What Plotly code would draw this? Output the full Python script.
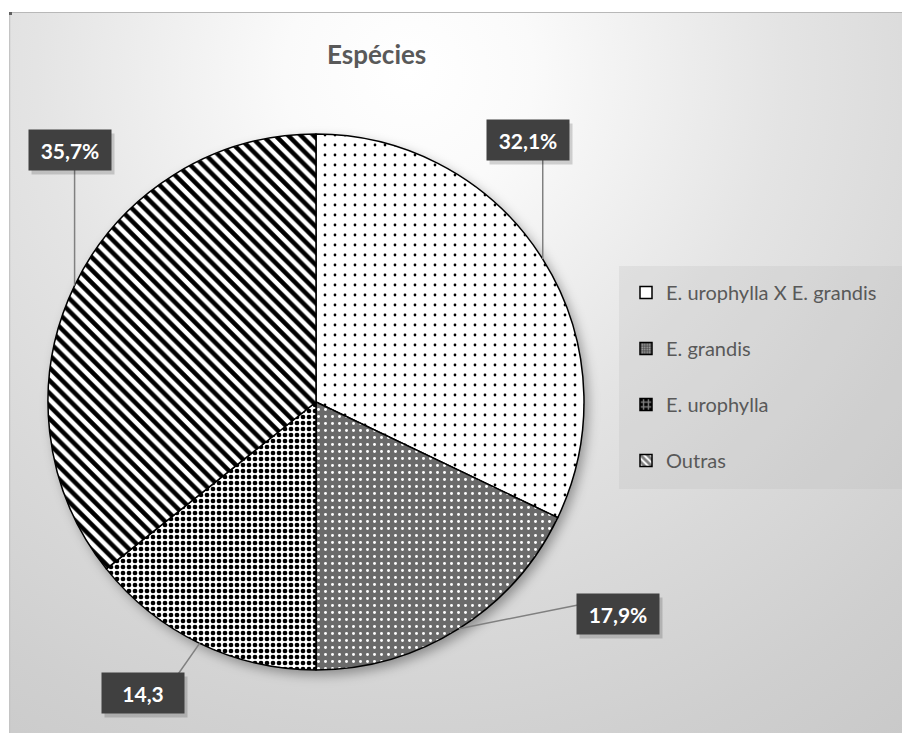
import math, base64
import plotly.graph_objects as go

# ---------------- data ----------------
labels = ["E. urophylla X E. grandis", "E. grandis", "E. urophylla", "Outras"]
values = [32.1, 17.9, 14.3, 35.7]
value_texts = ["32,1%", "17,9%", "14,3", "35,7%"]
title_text = "Espécies"

# ---------------- styles ----------------
pat_shape = [".", ".", ".", "\\"]
pat_fg = ["#000000", "#ffffff", "#000000", "#000000"]
pat_bg = ["#ffffff", "#6a6a6a", "#ffffff", "#ffffff"]
pat_size = [10, 7, 6, 9]
pat_sol = [0.06, 0.14, 0.48, 0.5]

leg_shape = ["", ".", "+", "\\"]
leg_fg = ["#000000", "#ffffff", "#ffffff", "#000000"]
leg_bg = ["#ffffff", "#555555", "#000000", "#ffffff"]
leg_size = [4, 3, 6, 6]
leg_sol = [0.1, 0.3, 0.5, 0.6]

W, H = 902, 733
FONT = "Lato"
TXT = "#595959"

# pie geometry (pixels)
CX, CY, R = 316, 402, 268

def px(x):
    return x / W

def py(y):
    return 1 - y / H

# label layout (pixel positions of box centers and leader ends)
box_centers = [(528, 140), (618, 614), (143, 693), (70, 150)]
leader_ends = [(None, 158), (578, 605), (174, 680), (None, 169)]

fig = go.Figure()

fig.add_trace(go.Pie(
    labels=labels, values=values, sort=False, direction="clockwise", rotation=0,
    textinfo="none", hoverinfo="skip", showlegend=False,
    domain=dict(x=[px(CX - R), px(CX + R)], y=[py(CY + R), py(CY - R)]),
    marker=dict(colors=pat_bg, line=dict(color="#000000", width=1.5),
                pattern=dict(shape=pat_shape, fgcolor=pat_fg, bgcolor=pat_bg,
                             size=pat_size, solidity=pat_sol, fillmode="replace")),
))

# legend entries (dummy bars carrying the slice styles)
for i, lab in enumerate(labels):
    fig.add_trace(go.Bar(
        x=[None], y=[None], name=lab, legendgroup=lab, showlegend=True,
        hoverinfo="skip",
        marker=dict(color=leg_bg[i], line=dict(color="#000000", width=1.5),
                    pattern=dict(shape=leg_shape[i], fgcolor=leg_fg[i], bgcolor=leg_bg[i],
                                 size=leg_size[i], solidity=leg_sol[i])),
    ))

# leader lines and label boxes
total = sum(values)
cum = 0.0
shapes = []
annotations = []
for i, v in enumerate(values):
    theta = 2 * math.pi * (cum + v / 2) / total
    cum += v
    ex = CX + R * math.sin(theta)
    ey = CY - R * math.cos(theta)
    lx, ly = leader_ends[i]
    if lx is None:
        lx = ex
    shapes.append(dict(type="line", xref="paper", yref="paper",
                       x0=px(ex), y0=py(ey), x1=px(lx), y1=py(ly),
                       line=dict(color="#808080", width=1.5)))
    bx, by = box_centers[i]
    annotations.append(dict(x=px(bx + 3), y=py(by + 4), xref="paper", yref="paper",
                            xanchor="center", yanchor="middle",
                            text=" ", showarrow=False, width=80, height=38,
                            bgcolor="rgba(0,0,0,0.16)", font=dict(size=20)))
    annotations.append(dict(x=px(bx), y=py(by), xref="paper", yref="paper",
                            xanchor="center", yanchor="middle",
                            text="<b>%s</b>" % value_texts[i], showarrow=False,
                            width=80, height=38, bgcolor="#404040",
                            font=dict(family=FONT, size=21, color="#ffffff")))

annotations.append(dict(x=px(376), y=py(54), xref="paper", yref="paper",
                        xanchor="center", yanchor="middle",
                        text="<b>%s</b>" % title_text, showarrow=False,
                        font=dict(family=FONT, size=26, color=TXT)))

# legend background box
shapes.insert(0, dict(type="rect", xref="paper", yref="paper", layer="below",
                      x0=px(619), x1=px(902), y0=py(489), y1=py(266),
                      fillcolor="rgba(180,180,180,0.22)", line=dict(width=0)))

# background gradient + pie shadow as svg image
BX, BY = 9, 12
bw, bh = W - BX, H - BY
svg = f'''<svg xmlns="http://www.w3.org/2000/svg" width="{bw}" height="{bh}" viewBox="0 0 {bw} {bh}">
<defs>
<radialGradient id="g" gradientUnits="userSpaceOnUse" cx="400" cy="60" r="830">
<stop offset="0" stop-color="#ffffff"/>
<stop offset="0.15" stop-color="#fafafa"/>
<stop offset="0.45" stop-color="#e4e4e4"/>
<stop offset="0.65" stop-color="#d9d9d9"/>
<stop offset="0.85" stop-color="#cfcfcf"/>
<stop offset="1" stop-color="#c9c9c9"/>
</radialGradient>
<filter id="b" x="-20%" y="-20%" width="140%" height="140%"><feGaussianBlur stdDeviation="6"/></filter>
</defs>
<rect x="0" y="0" width="{bw}" height="{bh}" fill="url(#g)"/>
<circle cx="{CX - BX + 4}" cy="{CY - BY + 5}" r="{R}" fill="rgba(0,0,0,0.35)" filter="url(#b)"/>
<line x1="0" y1="0.5" x2="{bw}" y2="0.5" stroke="#b8b8b8" stroke-width="1"/>
<line x1="0.5" y1="0" x2="0.5" y2="{bh}" stroke="#c4c4c4" stroke-width="1.5"/>
<rect x="0" y="0" width="3" height="3" fill="#606060"/>
</svg>'''
src = "data:image/svg+xml;base64," + base64.b64encode(svg.encode()).decode()

fig.update_layout(
    width=W, height=H, margin=dict(l=0, r=0, t=0, b=0),
    paper_bgcolor="#ffffff", plot_bgcolor="rgba(0,0,0,0)",
    xaxis=dict(visible=False, range=[0, 1], domain=[0, 0.01]),
    yaxis=dict(visible=False, range=[0, 1], domain=[0, 0.01]),
    showlegend=True,
    legend=dict(x=px(626), y=py(273), xanchor="left", yanchor="top",
                bgcolor="rgba(0,0,0,0)", traceorder="grouped", tracegroupgap=27,
                font=dict(family=FONT, size=20, color=TXT), itemclick=False,
                itemdoubleclick=False),
    shapes=shapes, annotations=annotations,
    images=[dict(source=src, xref="paper", yref="paper", x=px(BX), y=py(BY),
                 sizex=bw / W, sizey=bh / H, xanchor="left", yanchor="top",
                 sizing="stretch", layer="below")],
)

fig.write_html("out.html")
